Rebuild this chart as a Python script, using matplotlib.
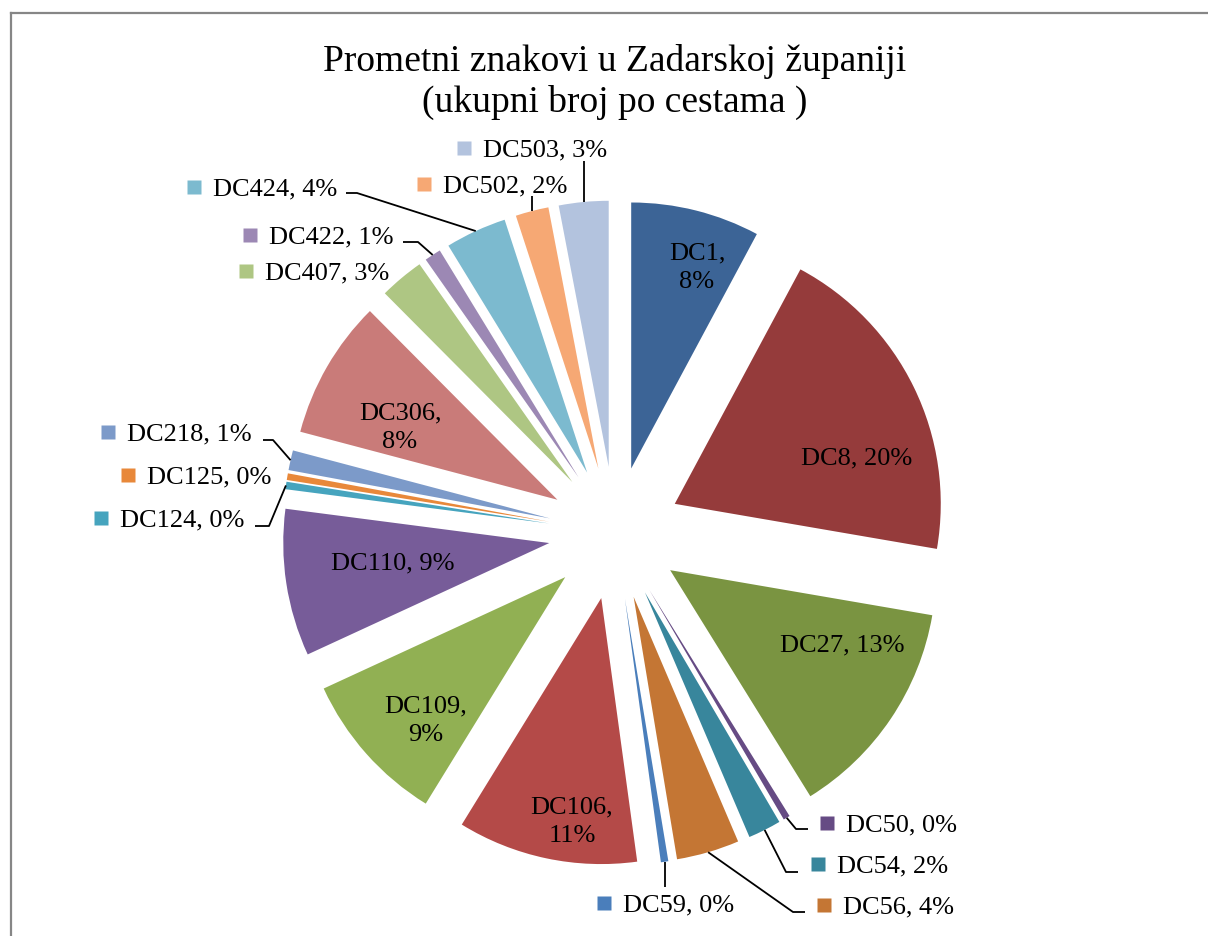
"""
Prometni znakovi u Zadarskoj zupaniji - exploded pie, Excel style
"""

import numpy as np
import matplotlib.pyplot as plt
from matplotlib.lines import Line2D

plt.rcParams['font.family'] = ['Liberation Serif', 'DejaVu Serif']

# ── Data (share of signs per road, %) ─────────────────────────
roads = ['DC1', 'DC8', 'DC27', 'DC50', 'DC54', 'DC56', 'DC59', 'DC106',
         'DC109', 'DC110', 'DC124', 'DC125', 'DC218', 'DC306', 'DC407',
         'DC422', 'DC424', 'DC502', 'DC503']
shares = [7.8, 19.8, 13.4, 0.4, 2.0, 3.8, 0.45, 10.9,
          9.3, 8.9, 0.45, 0.4, 1.2, 8.4, 2.7,
          1.0, 3.7, 2.0, 3.0]

colors = ['#3C6496', '#953B3B', '#7A9441', '#664B84', '#38869C', '#C47634',
          '#4A7EBB', '#B44A48', '#91B053', '#775C99', '#46A4BE', '#E8883A',
          '#7C9AC9', '#C97B79', '#AEC683', '#9C88B4', '#7CBACF', '#F6A874',
          '#B3C3DE']

# ── Layout (pixels in the 1208x937 picture) ───────────────────
W, H = 1208, 937
CX, CY, R = 615, 534, 266      # pie centre and radius
EXPLODE = 0.25

# labels drawn inside the slices: centre of text
inside = {
    'DC1': (697, 268, True), 'DC8': (857, 458, False),
    'DC27': (842, 645, False), 'DC106': (572, 822, True),
    'DC109': (426, 721, True), 'DC110': (393, 563, False),
    'DC306': (400, 428, True),
}
# labels outside: left edge of text, centre y, leader points after the arc
outside = {
    'DC50': (846, 825, [(796, 830), (808, 830)]),
    'DC54': (837, 866, [(786, 873), (798, 873)]),
    'DC56': (843, 907, [(793, 913), (805, 913)]),
    'DC59': (623, 905, [('x', 888)]),
    'DC124': (120, 520, [(269, 527), (255, 527)]),
    'DC125': (147, 477, []),
    'DC218': (127, 434, [(273, 441), (263, 441)]),
    'DC407': (265, 273, []),
    'DC422': (269, 237, [(418, 243), (403, 243)]),
    'DC424': (213, 189, [(357, 194), (346, 194)]),
    'DC502': (443, 186, [('x', 197)]),
    'DC503': (483, 150, [('x', 162)]),
}


def px(x, y):
    """picture pixels -> data units (radius = 1)"""
    return (x - CX) / R, (CY - y) / R


fig = plt.figure(figsize=(W / 100, H / 100), dpi=100)
ax = fig.add_axes([0, 0, 1, 1])

wedges, _ = ax.pie(shares, colors=colors, startangle=90, counterclock=False,
                   explode=[EXPLODE] * len(shares), radius=1,
                   wedgeprops=dict(linewidth=0))

ax.set_xlim(-CX / R, (W - CX) / R)
ax.set_ylim(-(H - CY) / R, CY / R)
ax.set_aspect('equal')
ax.axis('off')

total = sum(shares)
FS = 19

for w, name, val, col in zip(wedges, roads, shares, colors):
    pct = f'{val / total * 100:.0f}%'
    if name in inside:
        x, y, two_lines = inside[name]
        sep = ',\n' if two_lines else ', '
        ax.text(*px(x, y), f'{name}{sep}{pct}', ha='center', va='center',
                fontsize=FS, linespacing=1.4)
        continue

    tx, ty, leader = outside[name]
    ax.text(*px(tx, ty), f'{name}, {pct}', ha='left', va='center',
            fontsize=FS)
    ax.plot(*px(tx - 19, ty - 1), marker='s', ms=9.5, color=col,
            mec='none', linestyle='none')

    # leader from middle of the outer arc
    if leader:
        th = np.deg2rad((w.theta1 + w.theta2) / 2)
        cx0, cy0 = w.center
        sx, sy = cx0 + np.cos(th), cy0 + np.sin(th)
        xs, ys = [sx], [sy]
        for p in leader:
            if p[0] == 'x':
                xs.append(sx)
                ys.append(px(0, p[1])[1])
            else:
                x, y = px(*p)
                xs.append(x)
                ys.append(y)
        ax.plot(xs, ys, color='black', lw=1.3, solid_capstyle='butt')

fig.text(CX / W, 1 - 82 / H,
         'Prometni znakovi u Zadarskoj županiji\n(ukupni broj po cestama )',
         ha='center', va='center', fontsize=27, linespacing=1.25)

# chart-area border (gray, runs off the right and bottom edges)
fig.add_artist(Line2D([10.5 / W, 1.0], [1 - 13.5 / H] * 2,
                      transform=fig.transFigure, color='#868686', lw=1.6))
fig.add_artist(Line2D([10.5 / W] * 2, [0.0, 1 - 13.5 / H],
                      transform=fig.transFigure, color='#868686', lw=1.6))

fig.savefig('out.png', dpi=100)
